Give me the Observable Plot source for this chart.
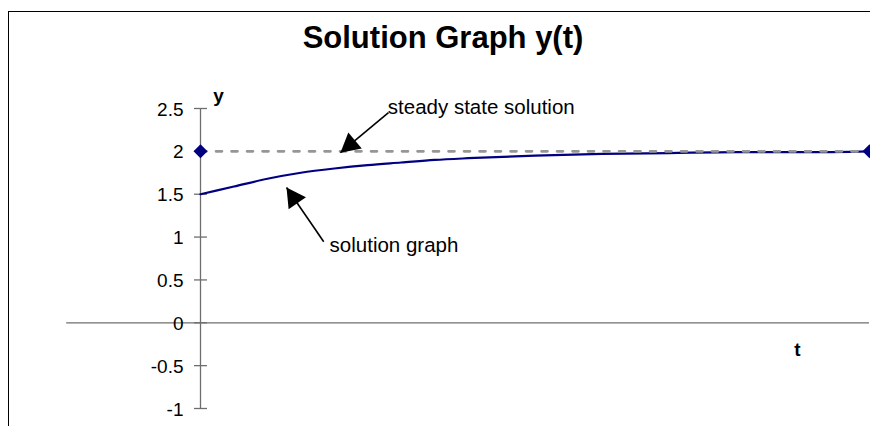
<!DOCTYPE html>
<html>
<head>
<meta charset="utf-8">
<script src="https://cdn.jsdelivr.net/npm/d3@7"></script>
<script src="https://cdn.jsdelivr.net/npm/@observablehq/plot@0.6"></script>
<style>
  html, body { margin: 0; padding: 0; background: #fff; overflow: hidden; }
  #wrap { position: relative; width: 870px; height: 426px; overflow: hidden; font-family: "Liberation Sans", Arial, sans-serif; }
  #frame { position: absolute; left: 8px; top: 11px; width: 900px; height: 500px; border-left: 1.5px solid #000; border-top: 1.5px solid #000; }
  #title { position: absolute; left: 0; top: 22px; width: 886px; text-align: center; font-size: 31px; line-height: 31px; font-weight: bold; color: #000; }
  #chart { position: absolute; left: 0; top: 0; }
</style>
</head>
<body>
<div id="wrap">
  <div id="frame"></div>
  <div id="chart"></div>
  <div id="title">Solution Graph y(t)</div>
</div>
<script>
// ---- data ----
const tValues = [0, 0.25, 0.5, 0.75, 1, 1.25, 1.5, 1.75, 2, 2.5, 3, 3.5, 4, 4.5, 5];
const yValues = [1.50, 1.59, 1.68, 1.75, 1.80, 1.84, 1.87, 1.90, 1.92, 1.95, 1.97, 1.98, 1.99, 1.99, 2.00];

const steadyT = [0, 5];
const steadyY = [2, 2];

const xDomain = [-1, 5];
const yTicks = [-1, -0.5, 0, 0.5, 1, 1.5, 2, 2.5];
const yTickLabels = ["-1", "-0.5", "0", "0.5", "1", "1.5", "2", "2.5"];

const xAxisLabel = "t";
const yAxisLabel = "y";

const annotLabels = ["steady state solution", "solution graph"];
const annotTextX = [1.40, 0.965];
const annotTextY = [2.44, 0.83];
const arrowFromX = [1.405, 0.921];
const arrowFromY = [2.453, 0.945];
const arrowToX = [1.046, 0.643];
const arrowToY = [1.985, 1.578];

// ---- layout ----
const W = 870, H = 426;
const mL = 200, mR = 1, mT = 108, mB = 18;
const kx = (W - mL - mR) / (xDomain[1] - 0);
const ky = (H - mT - mB) / (yTicks[yTicks.length - 1] - yTicks[0]);

function headSymbol(i) {
  let ux = (arrowToX[i] - arrowFromX[i]) * kx;
  let uy = -(arrowToY[i] - arrowFromY[i]) * ky;
  const n = Math.hypot(ux, uy); ux /= n; uy /= n;
  const L = 19, Wd = 21;
  return {
    draw(ctx) {
      const bx = -ux * L, by = -uy * L;
      const px = -uy * Wd / 2, py = ux * Wd / 2;
      ctx.moveTo(0, 0);
      ctx.lineTo(bx + px, by + py);
      ctx.lineTo(bx - px, by - py);
      ctx.closePath();
    }
  };
}

const idx = tValues.map((_, i) => i);
const aIdx = annotLabels.map((_, i) => i);
const axisColor = "#6e6e6e";
const font = "Liberation Sans, Arial, sans-serif";

const plot = Plot.plot({
  width: W,
  height: H,
  marginLeft: mL, marginRight: mR, marginTop: mT, marginBottom: mB,
  style: { background: "transparent", fontFamily: font, overflow: "visible" },
  x: { domain: [0, xDomain[1]], axis: null },
  y: { domain: [yTicks[0], yTicks[yTicks.length - 1]], axis: null },
  marks: [
    // axes
    Plot.ruleY([0], { x1: xDomain[0], x2: xDomain[1], stroke: axisColor, strokeWidth: 1.3 }),
    Plot.ruleX([0], { y1: yTicks[0], y2: yTicks[yTicks.length - 1], stroke: axisColor, strokeWidth: 1.3 }),
    Plot.ruleY(yTicks, { y: d => d, x1: 0, x2: 0, insetLeft: -6, insetRight: -7, stroke: axisColor, strokeWidth: 1.3 }),
    Plot.text(yTicks, { x: 0, y: d => d, text: (d, i) => yTickLabels[i], textAnchor: "end", dx: -17, dy: 1, fontSize: 19, fill: "#000" }),
    Plot.text([yAxisLabel], { x: 0, y: yTicks[yTicks.length - 1], text: d => d, dx: 18, dy: -13, fontSize: 19, fontWeight: "bold", fill: "#000" }),
    Plot.text([xAxisLabel], { x: xDomain[1], y: 0, text: d => d, dx: -72, dy: 27, fontSize: 19, fontWeight: "bold", fill: "#000" }),
    // solution curve
    Plot.line(idx, { x: i => tValues[i], y: i => yValues[i], stroke: "#000080", strokeWidth: 2.2, curve: "monotone-x" }),
    // steady state
    Plot.line(steadyT.map((_, i) => i), { x: i => steadyT[i], y: i => steadyY[i], stroke: "#969696", strokeWidth: 2.6, strokeDasharray: "6 9.5" }),
    Plot.dot(steadyT.map((_, i) => i), { x: i => steadyT[i], y: i => steadyY[i], symbol: "diamond2", r: 6.3, fill: "#000080", stroke: "none" }),
    // annotations
    Plot.link(aIdx, { x1: i => arrowFromX[i], y1: i => arrowFromY[i], x2: i => arrowToX[i], y2: i => arrowToY[i], stroke: "#000", strokeWidth: 1.6 }),
    ...aIdx.map(i => Plot.dot([i], { x: arrowToX[i], y: arrowToY[i], r: 1, symbol: headSymbol(i), fill: "#000", stroke: "none" })),
    Plot.text(aIdx, { x: i => annotTextX[i], y: i => annotTextY[i], text: i => annotLabels[i], textAnchor: "start", lineAnchor: "bottom", fontSize: 20.5, fill: "#000" })
  ]
});
document.getElementById("chart").appendChild(plot);
</script>
</body>
</html>
